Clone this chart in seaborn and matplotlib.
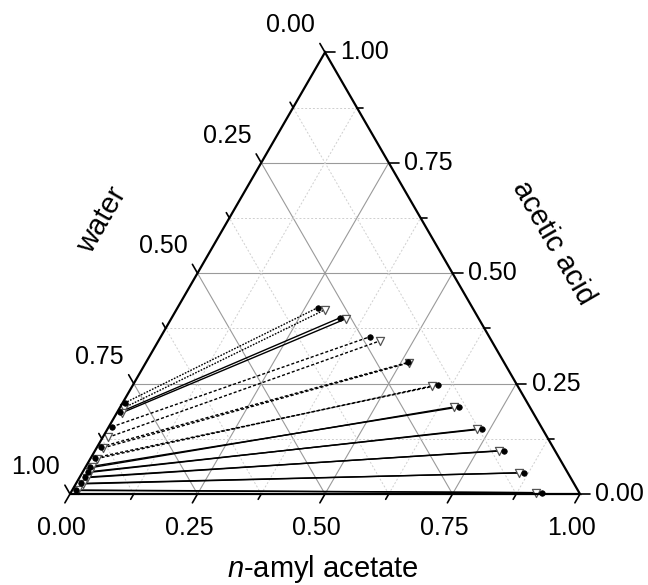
import numpy as np
import pandas as pd
import matplotlib
matplotlib.use('Agg')
import matplotlib.pyplot as plt
import seaborn as sns

sns.set_theme(style='white')
plt.rcParams['font.family'] = ['Liberation Sans', 'DejaVu Sans']
plt.rcParams['mathtext.fontset'] = 'custom'
plt.rcParams['mathtext.it'] = 'Liberation Sans:italic'
plt.rcParams['mathtext.rm'] = 'Liberation Sans'
plt.rcParams['text.color'] = 'black'

# mass fractions: A = n-amyl acetate, C = acetic acid, water = 1 - A - C
tie_ids = [1, 2, 3, 4, 5, 6, 7, 8, 9, 10]
tie_styles = ['dot', 'solid', 'dash', 'dash', 'dash', 'solid', 'solid', 'solid', 'solid', 'solid']

# experimental tie lines (filled circles)
exp_aq_A = [0.004, 0.006, 0.006, 0.008, 0.008, 0.009, 0.010, 0.010, 0.010, 0.008]
exp_aq_C = [0.206, 0.186, 0.152, 0.107, 0.082, 0.062, 0.050, 0.038, 0.024, 0.009]
exp_org_A = [0.275, 0.330, 0.410, 0.514, 0.598, 0.664, 0.734, 0.802, 0.866, 0.924]
exp_org_C = [0.422, 0.399, 0.356, 0.298, 0.246, 0.197, 0.147, 0.098, 0.048, 0.003]

# calculated tie lines (open triangles)
calc_aq_A = [0.008, 0.010, 0.010, 0.012, 0.012, 0.013, 0.014, 0.014, 0.014, 0.012]
calc_aq_C = [0.195, 0.184, 0.128, 0.104, 0.080, 0.060, 0.049, 0.037, 0.023, 0.008]
calc_org_A = [0.291, 0.343, 0.435, 0.516, 0.588, 0.654, 0.724, 0.792, 0.856, 0.912]
calc_org_C = [0.417, 0.397, 0.347, 0.297, 0.245, 0.197, 0.147, 0.098, 0.048, 0.003]

major_ticks = [0.0, 0.25, 0.5, 0.75, 1.0]
minor_ticks = [0.125, 0.375, 0.625, 0.875]
tick_text = ['0.00', '0.25', '0.50', '0.75', '1.00']

H = np.sqrt(3) / 2


def to_xy(a, c):
    a = np.asarray(a, dtype=float)
    c = np.asarray(c, dtype=float)
    return a + c / 2, c * H


def main():
    fig = plt.figure(figsize=(6.48, 5.85), dpi=100)
    ax = fig.add_axes([0, 0, 1, 1])
    ax.set_xlim(-70 / 510, 578 / 510)
    ax.set_ylim(-91 / 510, 494 / 510)
    ax.set_aspect('equal')
    ax.axis('off')

    # grid
    for v in major_ticks[1:-1] + minor_ticks:
        major = v in major_ticks
        kw = dict(color='#9a9a9a', lw=0.8, ls='-') if major else dict(color='#cfcfcf', lw=0.7, ls=(0, (2, 2)))
        x, y = to_xy([0, 1 - v], [v, v])      # constant acetic acid
        ax.plot(x, y, zorder=1, **kw)
        x, y = to_xy([v, v], [0, 1 - v])      # constant amyl acetate
        ax.plot(x, y, zorder=1, **kw)
        x, y = to_xy([1 - v, 0], [0, 1 - v])  # constant water
        ax.plot(x, y, zorder=1, **kw)

    # frame
    x, y = to_xy([0, 1, 0, 0], [0, 0, 1, 0])
    ax.plot(x, y, color='black', lw=1.6, zorder=4, solid_joinstyle='miter')

    # ticks
    for v in major_ticks + minor_ticks:
        L = 0.02 if v in major_ticks else 0.012
        x0, y0 = to_xy(v, 0)
        ax.plot([x0, x0 - 0.5 * L], [y0, y0 - H * L], color='black', lw=1.2, zorder=4)
        x0, y0 = to_xy(1 - v, v)
        ax.plot([x0, x0 + L], [y0, y0], color='black', lw=1.2, zorder=4)
        x0, y0 = to_xy(0, 1 - v)
        ax.plot([x0, x0 - 0.5 * L], [y0, y0 + H * L], color='black', lw=1.2, zorder=4)

    fs = 18
    for v, t in zip(major_ticks, tick_text):
        x0, y0 = to_xy(v, 0)
        ax.text(x0 - 0.016, y0 - 0.067, t, ha='center', va='center', fontsize=fs)
        x0, y0 = to_xy(1 - v, v)
        ax.text(x0 + 0.03, y0, t, ha='left', va='center', fontsize=fs)
        x0, y0 = to_xy(0, 1 - v)
        ax.text(x0 - 0.067, y0 + 0.053, t, ha='center', va='center', fontsize=fs)

    tfs = 21
    ax.text(0.496, -0.147, r'$\it{n}$-amyl acetate', ha='center', va='center', fontsize=tfs)
    ax.text(0.062, 0.537, 'water', ha='center', va='center', fontsize=tfs, rotation=60)
    ax.text(0.948, 0.492, 'acetic acid', ha='center', va='center', fontsize=tfs, rotation=-60)

    # tie lines
    rows = []
    for i, tid in enumerate(tie_ids):
        for kind, aqA, aqC, orA, orC in [('exp', exp_aq_A, exp_aq_C, exp_org_A, exp_org_C),
                                         ('calc', calc_aq_A, calc_aq_C, calc_org_A, calc_org_C)]:
            xs, ys = to_xy([aqA[i], orA[i]], [aqC[i], orC[i]])
            for k in range(2):
                rows.append(dict(x=xs[k], y=ys[k], line=f'{kind}{tid}', kind=kind,
                                 style=tie_styles[i], order=k))
    df = pd.DataFrame(rows)

    sns.lineplot(data=df, x='x', y='y', units='line', estimator=None, sort=False,
                 style='style', dashes={'solid': '', 'dot': (1.2, 1.0), 'dash': (2.2, 1.5)},
                 color='black', lw=1.0, legend=False, ax=ax, zorder=2)

    xe, ye = to_xy(exp_aq_A + exp_org_A, exp_aq_C + exp_org_C)
    xc, yc = to_xy(calc_aq_A + calc_org_A, calc_aq_C + calc_org_C)
    sns.scatterplot(x=xc, y=yc, marker='v', s=34, facecolor='white', edgecolor='#555555',
                    linewidth=0.9, ax=ax, zorder=3, legend=False)
    sns.scatterplot(x=xe, y=ye, marker='o', s=16, color='black', edgecolor='black',
                    linewidth=0.5, ax=ax, zorder=3, legend=False)

    fig.savefig('out.png', dpi=100)


if __name__ == '__main__':
    main()
